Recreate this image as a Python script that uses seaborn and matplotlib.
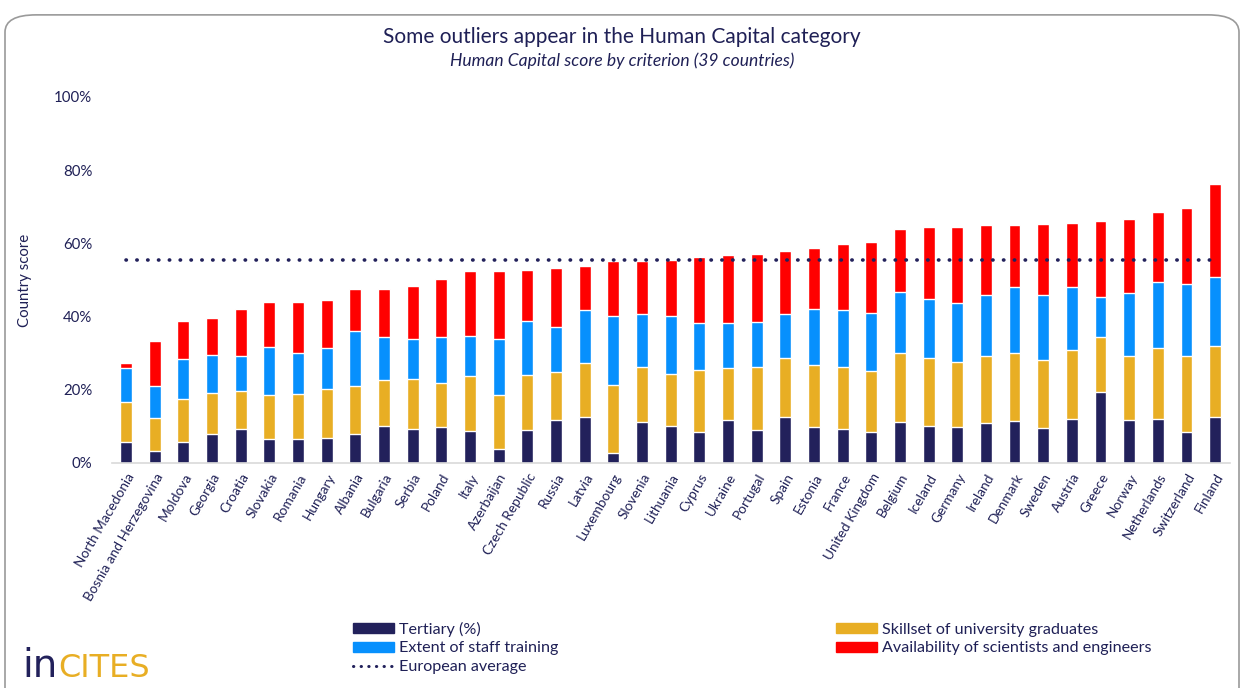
import numpy as np
import pandas as pd
import matplotlib
matplotlib.use("Agg")
import matplotlib.pyplot as plt
import seaborn as sns
from matplotlib.patches import FancyBboxPatch, Patch
from matplotlib.lines import Line2D

# data (percent of country score)
countries = ["North Macedonia", "Bosnia and Herzegovina", "Moldova", "Georgia", "Croatia",
             "Slovakia", "Romania", "Hungary", "Albania", "Bulgaria", "Serbia", "Poland",
             "Italy", "Azerbaijan", "Czech Republic", "Russia", "Latvia", "Luxembourg",
             "Slovenia", "Lithuania", "Cyprus", "Ukraine", "Portugal", "Spain", "Estonia",
             "France", "United Kingdom", "Belgium", "Iceland", "Germany", "Ireland",
             "Denmark", "Sweden", "Austria", "Greece", "Norway", "Netherlands",
             "Switzerland", "Finland"]
tertiary = [5.8, 3.3, 5.8, 8.0, 9.4, 6.6, 6.6, 6.9, 8.0, 10.1, 9.4, 9.7, 8.8, 3.7, 9.1,
            11.7, 12.5, 2.6, 11.2, 10.1, 8.6, 11.7, 9.0, 12.5, 9.8, 9.3, 8.5, 11.1, 10.1,
            9.8, 10.8, 11.4, 9.6, 11.9, 19.4, 11.7, 11.9, 8.5, 12.5]
skillset = [10.8, 8.9, 11.8, 11.1, 10.3, 12.1, 12.3, 13.4, 13.1, 12.6, 13.6, 12.2, 14.9,
            15.0, 14.9, 13.1, 14.9, 18.7, 14.9, 14.2, 16.7, 14.2, 17.1, 16.2, 16.9, 16.8,
            16.7, 19.0, 18.6, 17.9, 18.4, 18.7, 18.6, 19.0, 14.9, 17.5, 19.5, 20.7, 19.4]
staff_training = [9.3, 8.8, 10.7, 10.4, 9.6, 13.0, 11.2, 11.2, 15.0, 11.7, 10.9, 12.4,
                  10.9, 15.2, 14.7, 12.3, 14.4, 18.9, 14.6, 15.9, 13.0, 12.4, 12.5, 12.0,
                  15.3, 15.6, 15.7, 16.7, 16.2, 16.1, 16.6, 17.9, 17.8, 17.1, 11.0, 17.2,
                  18.1, 19.7, 18.9]
scientists = [1.5, 12.3, 10.6, 10.1, 12.8, 12.3, 13.9, 12.9, 11.4, 13.1, 14.5, 16.0, 17.8,
              18.5, 13.9, 16.1, 11.9, 14.9, 14.6, 15.3, 17.9, 18.6, 18.5, 17.3, 16.7, 18.1,
              19.5, 17.0, 19.5, 20.8, 19.1, 16.9, 19.2, 17.5, 20.7, 20.4, 19.1, 20.8, 25.3]
european_average = 55.5

df = pd.DataFrame({"country": countries, "tertiary": tertiary, "skillset": skillset,
                   "staff": staff_training, "scientists": scientists})
df["c1"] = df["tertiary"] / 100
df["c2"] = (df["tertiary"] + df["skillset"]) / 100
df["c3"] = (df["tertiary"] + df["skillset"] + df["staff"]) / 100
df["c4"] = (df["tertiary"] + df["skillset"] + df["staff"] + df["scientists"]) / 100

navy = "#22215B"
gold = "#E8AE24"
blue = "#0790FD"
red = "#FF0000"
txt = "#1F2056"

sns.set_style("white")
plt.rcParams["font.family"] = ["Lato", "DejaVu Sans"]

fig = plt.figure(figsize=(12.46, 6.88), dpi=100)
fig.patches.append(FancyBboxPatch((5 / 1246, -0.05), 1234 / 1246, 680 / 688 + 0.04,
                                  boxstyle="round,pad=0,rounding_size=0.025",
                                  transform=fig.transFigure, facecolor="white",
                                  edgecolor="#9a9a9a", linewidth=1.2, zorder=-1))
ax = fig.add_axes([111.7 / 1246, 225 / 688, 1117.9 / 1246, 366 / 688])
ax.set_facecolor("none")

# stacked bars: draw cumulative totals from the top down
for col, c in [("c4", red), ("c3", blue), ("c2", gold), ("c1", navy)]:
    sns.barplot(data=df, x="country", y=col, color=c, saturation=1, width=0.41, ax=ax)

avg = pd.DataFrame({"x": np.arange(len(countries)), "y": european_average / 100})
sns.lineplot(data=avg, x="x", y="y", ax=ax, color=navy, linewidth=2.6,
             linestyle=(0, (0.1, 2.9)))
ax.lines[-1].set_dash_capstyle("round")

ax.set_xlim(-0.5, len(countries) - 0.5)
ax.set_ylim(0, 1)
ax.set_yticks([0, 0.2, 0.4, 0.6, 0.8, 1.0])
ax.set_yticklabels(["0%", "20%", "40%", "60%", "80%", "100%"], fontsize=10.8, color=txt)
ax.set_xticks(range(len(countries)))
ax.set_xticklabels(countries, rotation=60, ha="right", rotation_mode="anchor",
                   fontsize=9.8, color=txt)
ax.tick_params(axis="both", length=0, pad=6)
ax.tick_params(axis="y", pad=14)
ax.set_xlabel("")
ax.set_ylabel("Country score", fontsize=10.8, color=txt, labelpad=16)
for s in ["top", "right", "left"]:
    ax.spines[s].set_visible(False)
ax.spines["bottom"].set_color("#d9d9d9")
ax.spines["bottom"].set_linewidth(1.2)

fig.text(622 / 1246, 1 - 37 / 688, "Some outliers appear in the Human Capital category",
         ha="center", va="center", fontsize=15, color=txt)
fig.text(622 / 1246, 1 - 61 / 688, "Human Capital score by criterion (39 countries)",
         ha="center", va="center", fontsize=12.6, style="italic", color=txt)

handles = [Patch(color=navy, label="Tertiary (%)"),
           Patch(color=blue, label="Extent of staff training"),
           Line2D([], [], color=navy, linewidth=2.2, linestyle=(0, (0.1, 2.4)),
                  dash_capstyle="round", label="European average"),
           Patch(color=gold, label="Skillset of university graduates"),
           Patch(color=red, label="Availability of scientists and engineers")]
leg = fig.legend(handles=handles, ncol=2, loc="upper left",
                 bbox_to_anchor=(338 / 1246, 1 - 607 / 688), frameon=False,
                 fontsize=11.6, handlelength=2.55, handleheight=0.6, handletextpad=0.35,
                 columnspacing=17.2, labelspacing=0.3, labelcolor=txt)

# logo
fig.canvas.draw()
t_in = fig.text(22 / 1246, 1 - 677 / 688, "in", fontsize=28, color=navy, ha="left",
                va="baseline", family=["Liberation Sans Narrow", "DejaVu Sans"])
bb = t_in.get_window_extent(fig.canvas.get_renderer())
fig.text(bb.x1 / 1246 + 1 / 1246, 1 - 677 / 688, "CITES", fontsize=23, color=gold,
         ha="left", va="baseline", family=["Liberation Sans Narrow", "DejaVu Sans"])

fig.savefig("out.png", dpi=100)
